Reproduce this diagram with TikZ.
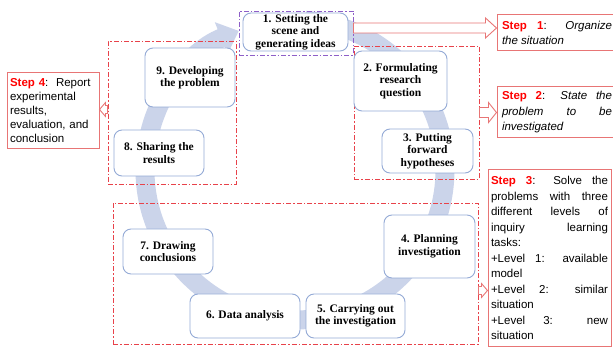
\documentclass[tikz,border=0pt]{standalone}
\usepackage{fontspec}
\setmainfont{Liberation Serif}
\newfontfamily\stepfont{Liberation Sans}
\usetikzlibrary{arrows.meta,calc}
\definecolor{BandClr}{HTML}{CBD4EA}
\definecolor{StageClr}{HTML}{94AAD6}
\definecolor{GroupClr}{HTML}{E8424A}
\definecolor{SceneClr}{HTML}{8E5FC8}
\definecolor{StepClr}{HTML}{E87575}
\newcommand{\stepname}[1]{\textcolor{red}{\textbf{Step #1}}}

\begin{document}
\begin{tikzpicture}[x=1pt,y=-1pt,
  stage/.style={draw=StageClr,fill=white,line width=0.9pt,rounded corners=8pt,
    align=center,inner sep=0pt,font=\bfseries\fontsize{11.5}{12.5}\selectfont},
  group/.style={draw=GroupClr,line width=0.9pt,inner sep=0pt,
    dash pattern=on 5pt off 2pt on 1.5pt off 2pt},
  stepbox/.style={draw=StepClr,fill=white,line width=1pt,inner ysep=2pt,
    font=\stepfont\fontsize{11.5}{15.5}\selectfont,
    execute at begin node={\hyphenpenalty=10000\relax}},
  stepflow/.style n args={3}{draw=StepClr,fill=white,line width=0.9pt,
    to path={let \p1=(\tikztostart),\p2=(\tikztotarget),\n1={sign(\x2-\x1)} in
      (\x1,\y1+#1) -- ({\x2-\n1*#3},\y1+#1) -- ({\x2-\n1*#3},\y1+#2) -- (\x2,\y1)
      -- ({\x2-\n1*#3},\y1-#2) -- ({\x2-\n1*#3},\y1-#1) -- (\x1,\y1-#1) -- cycle}}]
\useasboundingbox (0,0) rectangle (613,347);

\coordinate (hub) at (295,170);
\draw[BandClr,line width=19pt,-{Triangle[width=33pt,length=19pt]}]
  (hub) ++(86:150pt) arc[start angle=86,end angle=-248,radius=150pt];

\node[group,draw=SceneClr,minimum width=114pt,minimum height=44pt] (scene) at (296,33) {};
\node[group,minimum width=128pt,minimum height=143pt] (reportgrp) at (172,112.5) {};
\node[group,minimum width=125pt,minimum height=133pt] (problemgrp) at (416.5,112.5) {};
\node[group,minimum width=365pt,minimum height=141pt] (solvegrp) at (295.5,273.5) {};

\node[stage,minimum width=105pt,minimum height=38pt] (s1) at (295.5,32) {1. Setting the\\scene and\\generating ideas};
\node[stage,minimum width=93pt,minimum height=60pt] (s2) at (400.5,81) {2. Formulating\\research\\question};
\node[stage,minimum width=91pt,minimum height=44pt] (s3) at (427.5,151) {3. Putting\\forward\\hypotheses};
\node[stage,minimum width=91pt,minimum height=63pt] (s4) at (429.5,246.5) {4. Planning\\investigation};
\node[stage,minimum width=99pt,minimum height=44pt] (s5) at (355.5,316) {5. Carrying out\\the investigation};
\node[stage,minimum width=110pt,minimum height=44pt] (s6) at (245,316) {6. Data analysis};
\node[stage,minimum width=90pt,minimum height=45pt] (s7) at (168,251.5) {7. Drawing\\conclusions};
\node[stage,minimum width=90pt,minimum height=46pt] (s8) at (159,153) {8. Sharing the\\results};
\node[stage,minimum width=90pt,minimum height=59pt] (s9) at (190,77.5) {9. Developing\\the problem};

\node[stepbox,text width=110pt,inner xsep=5pt,minimum height=36pt,align=justify] (step1) at (557,33)
  {\stepname{1}: \textit{Organize\linebreak the situation}};
\node[stepbox,text width=110pt,inner xsep=5pt,minimum height=51pt,align=justify] (step2) at (557,112.5)
  {\stepname{2}: \textit{State the\linebreak problem to be\linebreak investigated}};
\node[stepbox,text width=117pt,inner xsep=3pt,minimum height=176pt,align=justify] (step3) at (549.5,258)
  {\stepname{3}: Solve the\linebreak problems with three\linebreak different levels of\linebreak
   inquiry learning\linebreak tasks:\\+Level 1: available\linebreak model\\
   +Level 2: similar\linebreak situation\\+Level 3: new\linebreak situation};
\node[stepbox,text width=86pt,inner xsep=3pt,minimum width=92pt,minimum height=76pt,align=left,
  font=\stepfont\fontsize{11.5}{14}\selectfont] (step4) at (53,111)
  {\stepname{4}:\ \ Report\\experimental\\results,\\evaluation, and\\conclusion};

\coordinate (c3) at ([yshift=-17pt]solvegrp.east);
\coordinate (c4) at ([yshift=3pt]reportgrp.west);
\draw[stepflow={5pt}{10pt}{11pt}] ([yshift=5pt]scene.east) to ([yshift=5pt]step1.west);
\draw[stepflow={5pt}{10pt}{8pt}] (problemgrp.east) to (step2.west);
\draw[stepflow={4pt}{7pt}{6pt}] (c3) to (c3 -| step3.west);
\draw[stepflow={4pt}{7pt}{6pt}] (c4) to (c4 -| step4.east);
\end{tikzpicture}
\end{document}
